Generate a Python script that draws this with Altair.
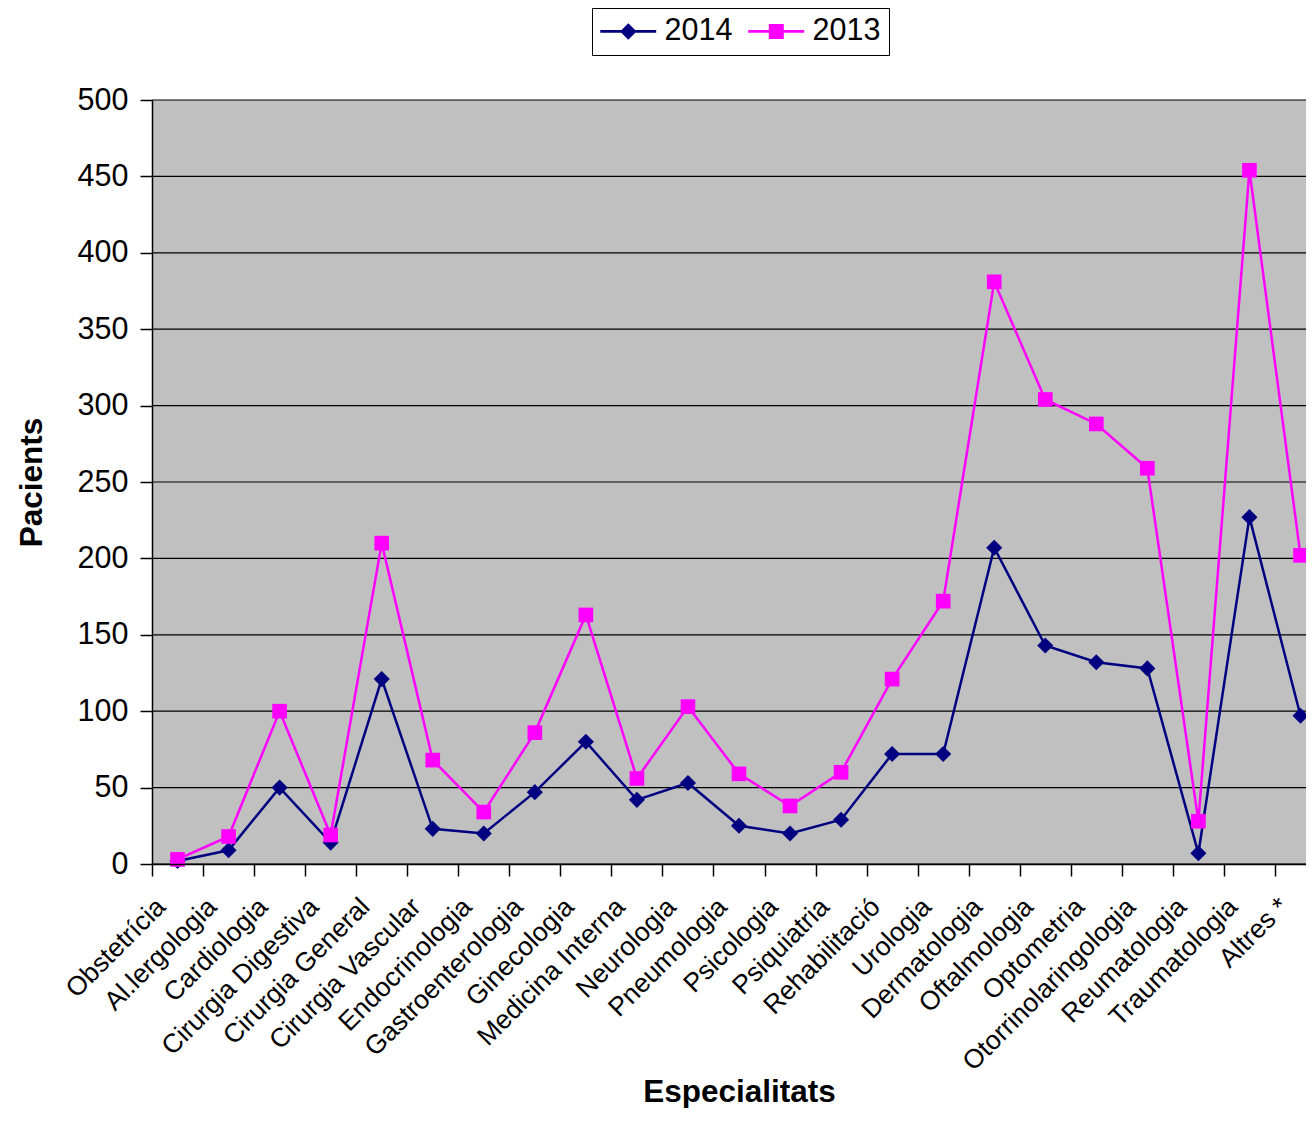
import altair as alt
import pandas as pd

categories = ["Obstetrícia", "Al.lergologia", "Cardiologia", "Cirurgia Digestiva",
              "Cirurgia General", "Cirurgia Vascular", "Endocrinologia", "Gastroenterologia",
              "Ginecologia", "Medicina Interna", "Neurologia", "Pneumologia", "Psicologia",
              "Psiquiatria", "Rehabilitació", "Urologia", "Dermatologia", "Oftalmologia",
              "Optometria", "Otorrinolaringologia", "Reumatologia", "Traumatologia", "Altres *"]
vals_2014 = [2, 9, 50, 14, 121, 23, 20, 47, 80, 42, 53, 25, 20, 29, 72, 72, 207, 143, 132, 128, 7, 227, 97]
vals_2013 = [3, 18, 100, 19, 210, 68, 34, 86, 163, 56, 103, 59, 38, 60, 121, 172, 381, 304, 288, 259, 28, 454, 202]
series_names = ["2014", "2013"]
series_colors = ["#000080", "#FF00FF"]
y_ticks = [0, 50, 100, 150, 200, 250, 300, 350, 400, 450, 500]

# legend glyphs: line segment + marker (custom symbol paths)
legend_paths = [
    "M-1,-0.09H2.73V0.09H-1ZM0.87,-0.55L1.42,0L0.87,0.55L0.32,0Z",
    "M-1,-0.09H2.73V0.09H-1ZM0.37,-0.5H1.37V0.5H0.37Z",
]

rows = []
for i, c in enumerate(categories):
    rows.append({"cat": c, "idx": i, "series": "2014", "value": vals_2014[i]})
for i, c in enumerate(categories):
    rows.append({"cat": c, "idx": i, "series": "2013", "value": vals_2013[i]})
df = pd.DataFrame(rows)
grid_df = pd.DataFrame({"tick": y_ticks})
bg_df = pd.DataFrame({"panel": ["plot"]})

FONT = "Liberation Sans"
PLOT_W = 1154
PLOT_H = 764

x_scale = alt.Scale(type="band", range=[0, 1174], paddingInner=0, paddingOuter=0)
x_axis = alt.Axis(title="Especialitats", labelAngle=-45, labelFontSize=26.5, labelColor="black",
                  labelFont=FONT, labelLimit=400, labelPadding=32, labelAlign="right",
                  labelBaseline="alphabetic", labelOffset=-11,
                  tickBand="extent", tickSize=12, tickColor="black", tickWidth=1.5,
                  domainColor="black", domainWidth=1.5, grid=False, zindex=1,
                  titleFont=FONT, titleFontSize=31.5, titleFontWeight="bold", titleColor="black",
                  titleBaseline="alphabetic", titleY=237, titleX=587, titleAlign="center")
y_scale = alt.Scale(domain=[0, 500], nice=False)
y_axis = alt.Axis(title="Pacients", values=y_ticks, labelFontSize=30.5, labelColor="black",
                  labelFont=FONT, labelPadding=12, tickSize=12, tickColor="black", tickWidth=1.5,
                  domainColor="black", domainWidth=1.5, grid=False, zindex=1,
                  titleFont=FONT, titleFontSize=31.5, titleFontWeight="bold",
                  titleColor="black", titleBaseline="alphabetic", titleAngle=-90,
                  titleX=-111, titleY=PLOT_H / 2, titleAlign="center")

x_enc = alt.X("cat:N", sort=categories, scale=x_scale, axis=x_axis)
y_enc = alt.Y("value:Q", scale=y_scale, axis=y_axis)

base = alt.Chart(df)

background = alt.Chart(bg_df).mark_rect(color="#C0C0C0").encode(
    x=alt.value(0), x2=alt.value(PLOT_W), y=alt.value(0), y2=alt.value(PLOT_H))

grid = alt.Chart(grid_df).mark_rule(color="black", strokeWidth=1.2).encode(
    y=alt.Y("tick:Q", scale=y_scale, axis=y_axis))

line14 = base.transform_filter(alt.datum.series == "2014").mark_line(
    color=series_colors[0], strokeWidth=2.5).encode(x=x_enc, y=y_enc, order="idx:Q")
pts14 = base.transform_filter(alt.datum.series == "2014").mark_point(
    shape="diamond", filled=True, size=260, opacity=1, color=series_colors[0]).encode(x=x_enc, y=y_enc)
line13 = base.transform_filter(alt.datum.series == "2013").mark_line(
    color=series_colors[1], strokeWidth=2.5).encode(x=x_enc, y=y_enc, order="idx:Q")
pts13 = base.transform_filter(alt.datum.series == "2013").mark_point(
    shape="square", filled=True, size=215, opacity=1, color=series_colors[1]).encode(x=x_enc, y=y_enc)

leg = alt.Legend(orient="none", legendX=440, legendY=-92, direction="horizontal", title=None,
                 labelFont=FONT, labelFontSize=30.5, labelColor="black", labelOffset=34,
                 symbolSize=900, symbolStrokeWidth=0, columnPadding=15, padding=8,
                 strokeColor="black", fillColor="white", symbolOpacity=1)

legend_layer = base.transform_filter("false").mark_point(filled=True, opacity=1).encode(
    color=alt.Color("series:N", scale=alt.Scale(domain=series_names, range=series_colors), legend=leg),
    shape=alt.Shape("series:N", scale=alt.Scale(domain=series_names, range=legend_paths), legend=leg),
)

chart = alt.layer(background, grid, line14, pts14, line13, pts13, legend_layer).properties(
    width=PLOT_W, height=PLOT_H,
    autosize=alt.AutoSizeParams(type="none"),
    padding={"left": 144, "top": 92, "right": 0, "bottom": 244},
).configure(font=FONT).configure_view(stroke="transparent")

chart.save("out.html", embed_options={"renderer": "svg", "actions": False})
